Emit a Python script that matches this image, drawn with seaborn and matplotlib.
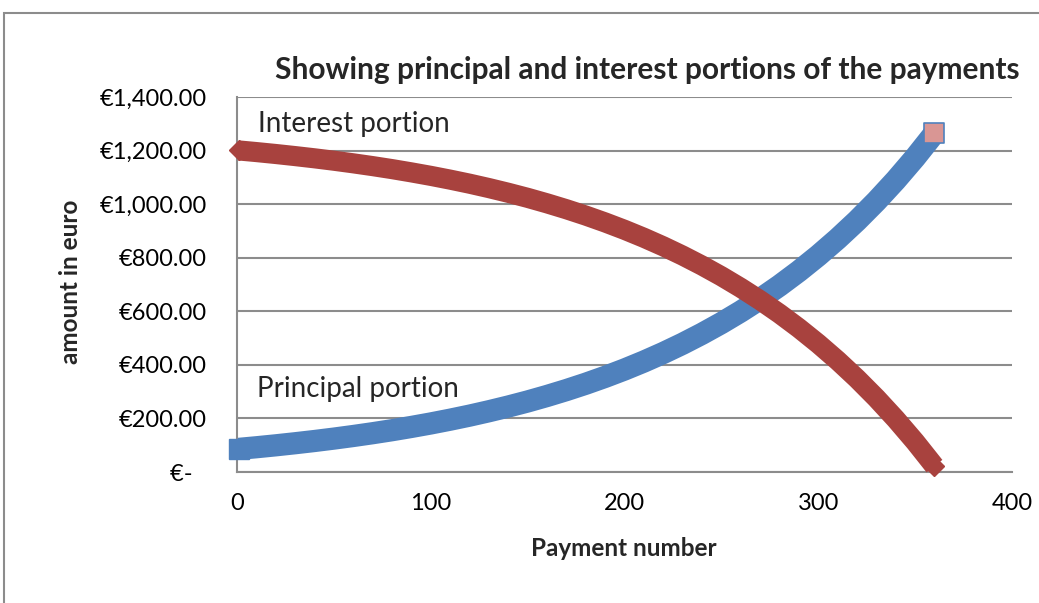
"""Principal vs interest portions of a 30-year loan, redrawn in seaborn."""

import matplotlib
matplotlib.use("Agg")
import matplotlib.pyplot as plt
from matplotlib.patches import Rectangle
from matplotlib.ticker import FuncFormatter, MultipleLocator
import seaborn as sns

# values (every 10th payment)
payment = [1, 10, 20, 30, 40, 50, 60, 70, 80, 90, 100, 110, 120, 130, 140, 150,
           160, 170, 180, 190, 200, 210, 220, 230, 240, 250, 260, 270, 280, 290,
           300, 310, 320, 330, 340, 350, 360]
principal = [86.5, 92.5, 99.7, 107.5, 115.8, 124.8, 134.5, 144.9, 156.1, 168.3,
             181.3, 195.4, 210.5, 226.9, 244.5, 263.4, 283.9, 305.9, 329.6, 355.2,
             382.7, 412.4, 444.4, 478.9, 516.1, 556.1, 599.3, 645.7, 695.8, 749.8,
             808.0, 870.7, 938.2, 1011.0, 1089.5, 1174.0, 1265.1]
interest = [1200.5, 1194.5, 1187.3, 1179.5, 1171.2, 1162.2, 1152.5, 1142.1, 1130.9,
            1118.7, 1105.7, 1091.6, 1076.5, 1060.1, 1042.5, 1023.6, 1003.1, 981.1,
            957.4, 931.8, 904.3, 874.6, 842.6, 808.1, 770.9, 730.9, 687.7, 641.3,
            591.2, 537.2, 479.0, 416.3, 348.8, 276.0, 197.5, 113.0, 21.9]

title = "Showing principal and interest portions of the payments"
x_label = "Payment number"
y_label = "amount in euro"

BLUE = "#4F81BD"
PINK = "#D99694"
RED = "#A8423E"
GRID = "#8C8C8C"

sns.set_style("white")
plt.rcParams["font.family"] = ["Lato", "DejaVu Sans"]

fig = plt.figure(figsize=(10.39, 6.03), dpi=100)
ax = fig.add_axes([0.2281, 0.2172, 0.7459, 0.6219])

# principal: thick blue band of squares, last marker pink-filled
sns.lineplot(x=payment, y=principal, ax=ax, color=BLUE, linewidth=16,
             marker="s", markersize=15, markeredgecolor=BLUE,
             markerfacecolor=BLUE, markeredgewidth=1, markevery=[0],
             clip_on=False, solid_capstyle="butt", zorder=3)
sns.scatterplot(x=payment[-1:], y=principal[-1:], ax=ax, marker="s",
                s=14.5 ** 2, color=PINK, edgecolor=BLUE, linewidth=1.2,
                clip_on=False, zorder=4)

# interest: red diamonds band
sns.lineplot(x=payment, y=interest, ax=ax, color=RED, linewidth=14.5,
             marker="D", markersize=10, markeredgecolor=RED,
             markerfacecolor=RED, markeredgewidth=1,
             markevery=[0, len(payment) - 1], clip_on=False,
             solid_capstyle="butt", zorder=5)

ax.set_xlim(0, 400)
ax.set_ylim(0, 1400)
ax.xaxis.set_major_locator(MultipleLocator(100))
ax.yaxis.set_major_locator(MultipleLocator(200))
ax.yaxis.set_major_formatter(FuncFormatter(
    lambda v, _: "€-\u2007" if v == 0 else f"€{v:,.2f}"))

ax.grid(axis="y", color=GRID, linewidth=1.5)
ax.set_axisbelow(True)
for side in ["top", "right"]:
    ax.spines[side].set_visible(False)
for side in ["left", "bottom"]:
    ax.spines[side].set_color(GRID)
    ax.spines[side].set_linewidth(1.5)

ax.tick_params(axis="both", direction="out", length=6, width=1.5, color=GRID,
               labelsize=17, labelcolor="black")
ax.tick_params(axis="y", pad=16)
ax.tick_params(axis="x", pad=9)
ax.set_xlabel("")
ax.set_ylabel("")

fig.text(647 / 1039, 1 - 70 / 603, title, ha="center", va="center",
         fontsize=21.5, fontweight="bold")
fig.text(624 / 1039, 1 - 548 / 603, x_label, ha="center", va="center",
         fontsize=17.5, fontweight="bold")
fig.text(70 / 1039, 1 - 282 / 603, y_label, ha="center", va="center",
         rotation=90, fontsize=17.5, fontweight="bold")

ax.text(0.027, 0.928, "Interest portion", transform=ax.transAxes,
        ha="left", va="center", fontsize=20)
ax.text(0.026, 0.221, "Principal portion", transform=ax.transAxes,
        ha="left", va="center", fontsize=20)

# chart area frame (cropped on the right and bottom)
fig.add_artist(Rectangle((4 / 1039, -0.1), 1.2, 1 - 13 / 603 + 0.1,
                         transform=fig.transFigure, fill=False,
                         edgecolor=GRID, linewidth=1.5))

fig.savefig("out.png", dpi=100)
plt.close(fig)
